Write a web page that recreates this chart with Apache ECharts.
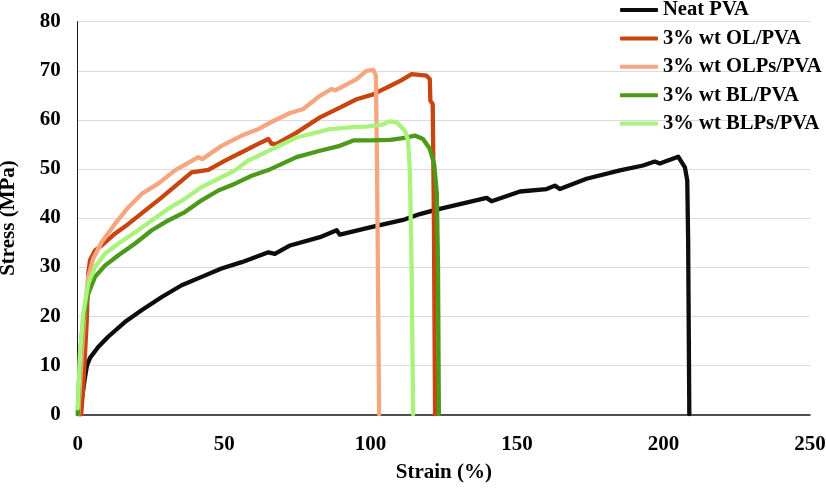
<!DOCTYPE html>
<html>
<head>
<meta charset="utf-8">
<script src="https://cdn.jsdelivr.net/npm/echarts@6/dist/echarts.min.js"></script>
<style>
html,body{margin:0;padding:0;background:#fff;}
#c{width:826px;height:492px;}
</style>
</head>
<body>
<div id="c"></div>
<script>
const seriesNames = ["Neat PVA", "3% wt OL/PVA", "3% wt OLPs/PVA", "3% wt BL/PVA", "3% wt BLPs/PVA"];
const xTicks = [0, 50, 100, 150, 200, 250];
const yTicks = [0, 10, 20, 30, 40, 50, 60, 70, 80];

const neatStrain = [0.8, 1.4, 2.5, 3.2, 4.2, 7.0, 10.4, 16.1, 21.8, 28.7, 35.5, 42.3, 49.1, 56.0, 65.1, 67.3, 72.5, 82.7, 88.4, 89.5, 99.8, 111.1, 116.8, 122.5, 139.6, 141.3, 151.0, 160.1, 162.9, 164.6, 173.7, 185.1, 193.0, 197.0, 198.7, 205.0, 207.3, 208.1, 208.4, 208.8];
const neatStress = [0, 3.0, 7.6, 10.0, 11.5, 13.7, 15.8, 18.8, 21.2, 23.9, 26.3, 28.0, 29.7, 31.0, 33.0, 32.7, 34.4, 36.1, 37.5, 36.6, 38.1, 39.6, 40.8, 41.7, 44.1, 43.4, 45.4, 45.9, 46.6, 45.9, 48.0, 49.7, 50.7, 51.5, 51.1, 52.5, 50.3, 47.6, 35.4, 0];

const olStrain = [1.2, 1.9, 3.1, 3.6, 4.2, 5.9, 8.2, 12.7, 17.3, 23.0, 28.7, 34.3, 38.9, 44.6, 50.3, 56.0, 61.6, 65.1, 66.2, 67.9, 74.7, 82.7, 89.5, 95.2, 100.9, 103.2, 106.6, 110.6, 114.0, 115.7, 119.1, 120.2, 120.4, 121.2, 121.6, 122.0];
const olStress = [0, 5.6, 19.2, 28.7, 31.4, 33.4, 34.4, 36.8, 38.8, 41.5, 44.2, 47.0, 49.3, 49.8, 51.7, 53.4, 55.1, 56.1, 55.1, 55.1, 57.4, 60.5, 62.5, 64.2, 65.2, 65.9, 66.9, 68.1, 69.3, 69.2, 69.0, 68.3, 63.9, 63.2, 40.0, 0];

const olpStrain = [0.2, 1.4, 2.5, 3.6, 5.3, 8.2, 12.7, 17.3, 21.8, 27.5, 33.2, 41.2, 42.5, 49.1, 56.0, 61.6, 65.6, 72.5, 77.0, 82.7, 86.7, 88.0, 95.2, 98.6, 100.9, 101.8, 102.2, 102.9];
const olpStress = [0, 12.4, 21.9, 28.0, 31.7, 35.1, 38.8, 42.2, 44.9, 47.0, 49.7, 52.4, 52.0, 54.7, 56.8, 58.1, 59.4, 61.4, 62.2, 64.9, 66.3, 66.0, 68.3, 70.0, 70.2, 69.0, 50.0, 0];

const blStrain = [0, 0.8, 1.9, 3.6, 5.9, 9.3, 13.9, 19.6, 25.3, 30.9, 36.6, 42.3, 48.0, 53.7, 59.4, 65.6, 74.7, 82.7, 89.5, 94.1, 99.8, 106.6, 112.3, 115.1, 117.9, 120.2, 121.7, 122.6, 123.0, 123.3];
const blStress = [0, 12.4, 19.2, 24.6, 28.0, 30.3, 32.4, 34.8, 37.5, 39.5, 41.2, 43.6, 45.6, 47.0, 48.6, 49.9, 52.4, 53.7, 54.7, 55.8, 55.8, 55.9, 56.4, 56.8, 56.1, 54.1, 51.0, 45.0, 30.0, 0];

const blpStrain = [0, 0.8, 1.9, 3.6, 5.9, 9.3, 13.9, 19.6, 25.3, 30.9, 36.6, 42.3, 48.0, 53.7, 58.2, 65.6, 74.7, 86.1, 94.1, 98.6, 104.3, 106.6, 108.9, 111.7, 112.8, 113.4, 114.0, 114.5];
const blpStress = [1.2, 12.4, 20.5, 26.6, 30.0, 32.7, 34.8, 37.1, 39.5, 41.9, 43.9, 46.3, 48.0, 49.7, 51.7, 53.8, 56.4, 58.1, 58.5, 58.6, 59.1, 59.7, 59.5, 57.8, 55.8, 49.7, 30.0, 0];

const colors = ["#0d0d0d", "#c9450f", "#f6a67f", "#4d9a1a", "#a9f27b"];
const strains = [neatStrain, olStrain, olpStrain, blStrain, blpStrain];
const stresses = [neatStress, olStress, olpStress, blStress, blpStress];

const font = "'Liberation Serif', 'Times New Roman', serif";
const chart = echarts.init(document.getElementById('c'), null, {renderer: 'canvas'});
const series = seriesNames.map((name, i) => ({
  name: name,
  type: 'line',
  showSymbol: false,
  symbol: 'none',
  smooth: false,
  lineStyle: {color: colors[i], width: 4.3, join: 'round', cap: 'round'},
  itemStyle: {color: colors[i]},
  data: strains[i].map((x, j) => [x, stresses[i][j]])
}));

chart.setOption({
  animation: false,
  backgroundColor: '#ffffff',
  grid: {left: 77.7, right: 16, top: 21.7, bottom: 77.7, containLabel: false, outerBoundsMode: 'none'},
  legend: {
    orient: 'vertical',
    left: 620,
    top: -1,
    padding: 0,
    itemGap: 6.4,
    itemWidth: 38,
    itemHeight: 4,
    icon: 'roundRect',
    data: seriesNames,
    textStyle: {fontFamily: font, fontWeight: 'bold', fontSize: 20.6, color: '#000', lineHeight: 22}
  },
  xAxis: {
    type: 'value',
    min: xTicks[0],
    max: xTicks[xTicks.length - 1],
    interval: xTicks[1] - xTicks[0],
    name: 'Strain (%)',
    nameLocation: 'middle',
    nameGap: 48,
    nameTextStyle: {fontFamily: font, fontWeight: 'bold', fontSize: 21, color: '#000'},
    axisLine: {show: true, onZero: false, lineStyle: {color: '#1a1a1a', width: 1.5}},
    axisTick: {show: false},
    splitLine: {show: false},
    axisLabel: {fontFamily: font, fontWeight: 'bold', fontSize: 21, color: '#000', margin: 20}
  },
  yAxis: {
    type: 'value',
    min: yTicks[0],
    max: yTicks[yTicks.length - 1],
    interval: yTicks[1] - yTicks[0],
    name: 'Stress (MPa)',
    nameLocation: 'middle',
    nameGap: 59,
    nameTextStyle: {fontFamily: font, fontWeight: 'bold', fontSize: 21, color: '#000'},
    axisLine: {show: true, lineStyle: {color: '#1a1a1a', width: 1}},
    axisTick: {show: false},
    splitLine: {show: true, lineStyle: {color: '#d9dcdc', width: 1.2}},
    axisLabel: {fontFamily: font, fontWeight: 'bold', fontSize: 21, color: '#000', margin: 17}
  },
  series: series
});
</script>
</body>
</html>
